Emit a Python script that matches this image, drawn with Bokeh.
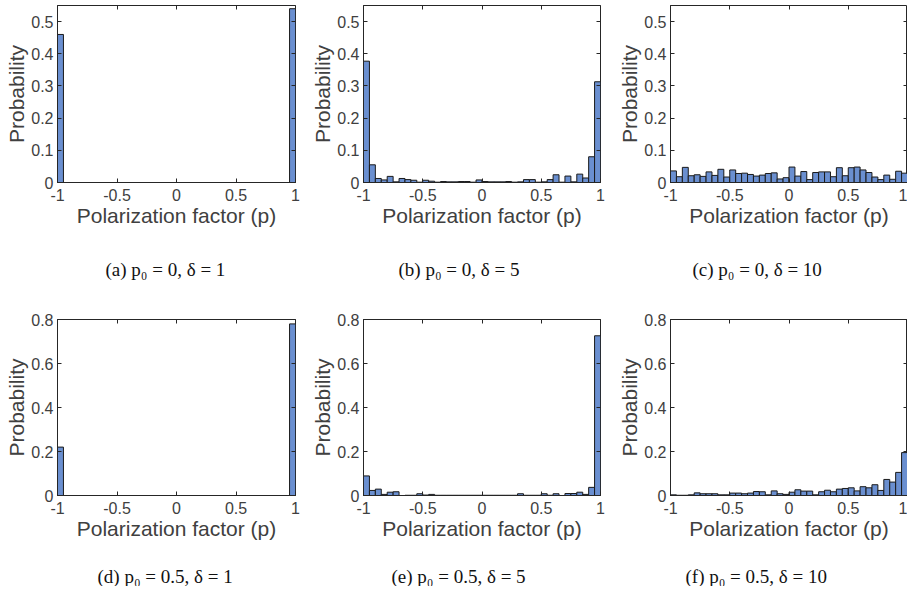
import numpy as np
from bokeh.plotting import figure
from bokeh.layouts import column, row
from bokeh.models import FixedTicker, Range1d, ColumnDataSource, LinearAxis
from bokeh.embed import file_html
from bokeh.resources import INLINE

# ---- data (probability per bin, 40 bins on [-1, 1]) ----
N_BINS = 40
x_ticks = [-1, -0.5, 0, 0.5, 1]
x_tick_labels = {-1: "-1", -0.5: "-0.5", 0: "0", 0.5: "0.5", 1: "1"}
y_ticks_top = [0, 0.1, 0.2, 0.3, 0.4, 0.5]
y_ticks_bottom = [0, 0.2, 0.4, 0.6, 0.8]

prob_a = [0.46] + [0.0] * 38 + [0.54]
prob_b = [0.377, 0.055, 0.0125, 0.008, 0.019, 0.002, 0.0125, 0.009, 0.007, 0.001,
          0.007, 0.004, 0.001, 0.003, 0.002, 0.002, 0.003, 0.003, 0.001, 0.008,
          0.003, 0.002, 0.002, 0.002, 0.003, 0.001, 0.002, 0.009, 0.009, 0.001,
          0.002, 0.009, 0.024, 0.001, 0.020, 0.002, 0.026, 0.014, 0.080, 0.313]
prob_c = [0.036, 0.018, 0.047, 0.021, 0.024, 0.019, 0.033, 0.022, 0.041, 0.017,
          0.039, 0.028, 0.029, 0.025, 0.020, 0.023, 0.028, 0.030, 0.011, 0.015,
          0.048, 0.020, 0.034, 0.009, 0.031, 0.033, 0.033, 0.018, 0.046, 0.021,
          0.046, 0.048, 0.039, 0.031, 0.017, 0.009, 0.023, 0.010, 0.035, 0.029]
prob_d = [0.22] + [0.0] * 38 + [0.78]
prob_e = [0.089, 0.023, 0.029, 0.005, 0.015, 0.017, 0.0, 0.001, 0.001, 0.008,
          0.002, 0.005, 0.001, 0.001, 0.001, 0.001, 0.001, 0.001, 0.001, 0.001,
          0.001, 0.001, 0.001, 0.001, 0.001, 0.001, 0.008, 0.001, 0.001, 0.001,
          0.008, 0.001, 0.008, 0.0, 0.009, 0.009, 0.015, 0.005, 0.037, 0.726]
prob_f = [0.003, 0.001, 0.001, 0.003, 0.012, 0.008, 0.008, 0.008, 0.003, 0.003,
          0.011, 0.011, 0.008, 0.011, 0.018, 0.017, 0.003, 0.021, 0.008, 0.005,
          0.015, 0.026, 0.020, 0.020, 0.003, 0.017, 0.024, 0.017, 0.029, 0.032,
          0.035, 0.021, 0.040, 0.035, 0.049, 0.023, 0.073, 0.061, 0.105, 0.195]

captions_top = ["(a)  p\u2080 = 0, \u03b4 = 1", "(b)  p\u2080 = 0, \u03b4 = 5", "(c)  p\u2080 = 0, \u03b4 = 10"]
captions_bottom = ["(d)  p\u2080 = 0.5, \u03b4 = 1", "(e)  p\u2080 = 0.5, \u03b4 = 5", "(f)  p\u2080 = 0.5, \u03b4 = 10"]

edges = np.linspace(-1, 1, N_BINS + 1)

BAR_COLOR = "#6a8fd0"
AX_COLOR = "#262626"
TXT_COLOR = "#404040"
SANS = "Liberation Sans"
SERIF = "Liberation Serif"
TOTAL_W = 907

# figure widths and borders per column (left border, right border)
W = [307, 307, 293]
BL = [57, 56, 56]
BR = [12, 14, 0]


def make_panel(probs, ymax, yticks, col, height, top_border):
    p = figure(width=W[col], height=height, output_backend="svg", toolbar_location=None,
               x_range=Range1d(-1, 1), y_range=Range1d(0, ymax))
    p.min_border_left = BL[col]
    p.min_border_right = BR[col]
    p.min_border_top = top_border
    p.min_border_bottom = 56
    p.background_fill_color = "white"
    p.border_fill_color = "white"
    p.outline_line_color = AX_COLOR
    p.outline_line_width = 1
    p.grid.visible = False

    src = ColumnDataSource(dict(left=edges[:-1], right=edges[1:], top=probs))
    p.quad(left="left", right="right", bottom=0, top="top", source=src,
           fill_color=BAR_COLOR, line_color="#1a1a1a", line_width=1)

    for ax in (p.xaxis[0], p.yaxis[0]):
        ax.major_tick_in = 4
        ax.major_tick_out = 0
        ax.minor_tick_in = 0
        ax.minor_tick_out = 0
        ax.axis_line_color = AX_COLOR
        ax.major_tick_line_color = AX_COLOR
        ax.major_label_text_font = SANS
        ax.major_label_text_font_size = "16px"
        ax.major_label_text_color = TXT_COLOR
        ax.axis_label_text_font = SANS
        ax.axis_label_text_font_size = "21px"
        ax.axis_label_text_font_style = "normal"
        ax.axis_label_text_color = TXT_COLOR
        ax.axis_label_standoff = 0

    p.xaxis[0].ticker = FixedTicker(ticks=x_ticks)
    p.xaxis[0].major_label_overrides = x_tick_labels
    p.xaxis[0].axis_label = "Polarization factor (p)"
    p.xaxis[0].major_label_standoff = 6
    p.yaxis[0].ticker = FixedTicker(ticks=yticks)
    p.yaxis[0].axis_label = "Probability"
    p.yaxis[0].major_label_standoff = 4

    # box ticks on top and right (MATLAB "box on"), without labels
    for loc, tk in (("above", x_ticks), ("right", yticks)):
        a = LinearAxis(ticker=FixedTicker(ticks=tk),
                       major_label_overrides={t: "" for t in tk},
                       major_label_standoff=0, major_tick_in=4, major_tick_out=0,
                       minor_tick_in=0, minor_tick_out=0, axis_line_color=None,
                       major_tick_line_color=AX_COLOR)
        p.add_layout(a, loc)
    return p


def make_caption_row(texts, xs, height, ypos):
    c = figure(width=TOTAL_W, height=height, output_backend="svg", toolbar_location=None,
               x_range=Range1d(0, TOTAL_W), y_range=Range1d(0, height),
               min_border=0)
    c.axis.visible = False
    c.grid.visible = False
    c.outline_line_color = None
    c.text(x=xs, y=[ypos] * len(texts), text=texts, text_font_size="19px",
           text_color="#111111", text_baseline="middle", text_align="left",
           text_font={"value": SERIF})
    return c


top_panels = [make_panel(pr, 0.55, y_ticks_top, i, 238, 5)
              for i, pr in enumerate([prob_a, prob_b, prob_c])]
bot_panels = [make_panel(pr, 0.8, y_ticks_bottom, i, 251, 19)
              for i, pr in enumerate([prob_d, prob_e, prob_f])]

cap_top = make_caption_row(captions_top, [105, 398, 692], 62, 31)
cap_bot = make_caption_row(captions_bottom, [97, 391, 685], 35, 10)

layout = column(row(*top_panels, spacing=0), cap_top,
                row(*bot_panels, spacing=0), cap_bot, spacing=0)

open("out.html", "w").write(file_html(layout, INLINE))
